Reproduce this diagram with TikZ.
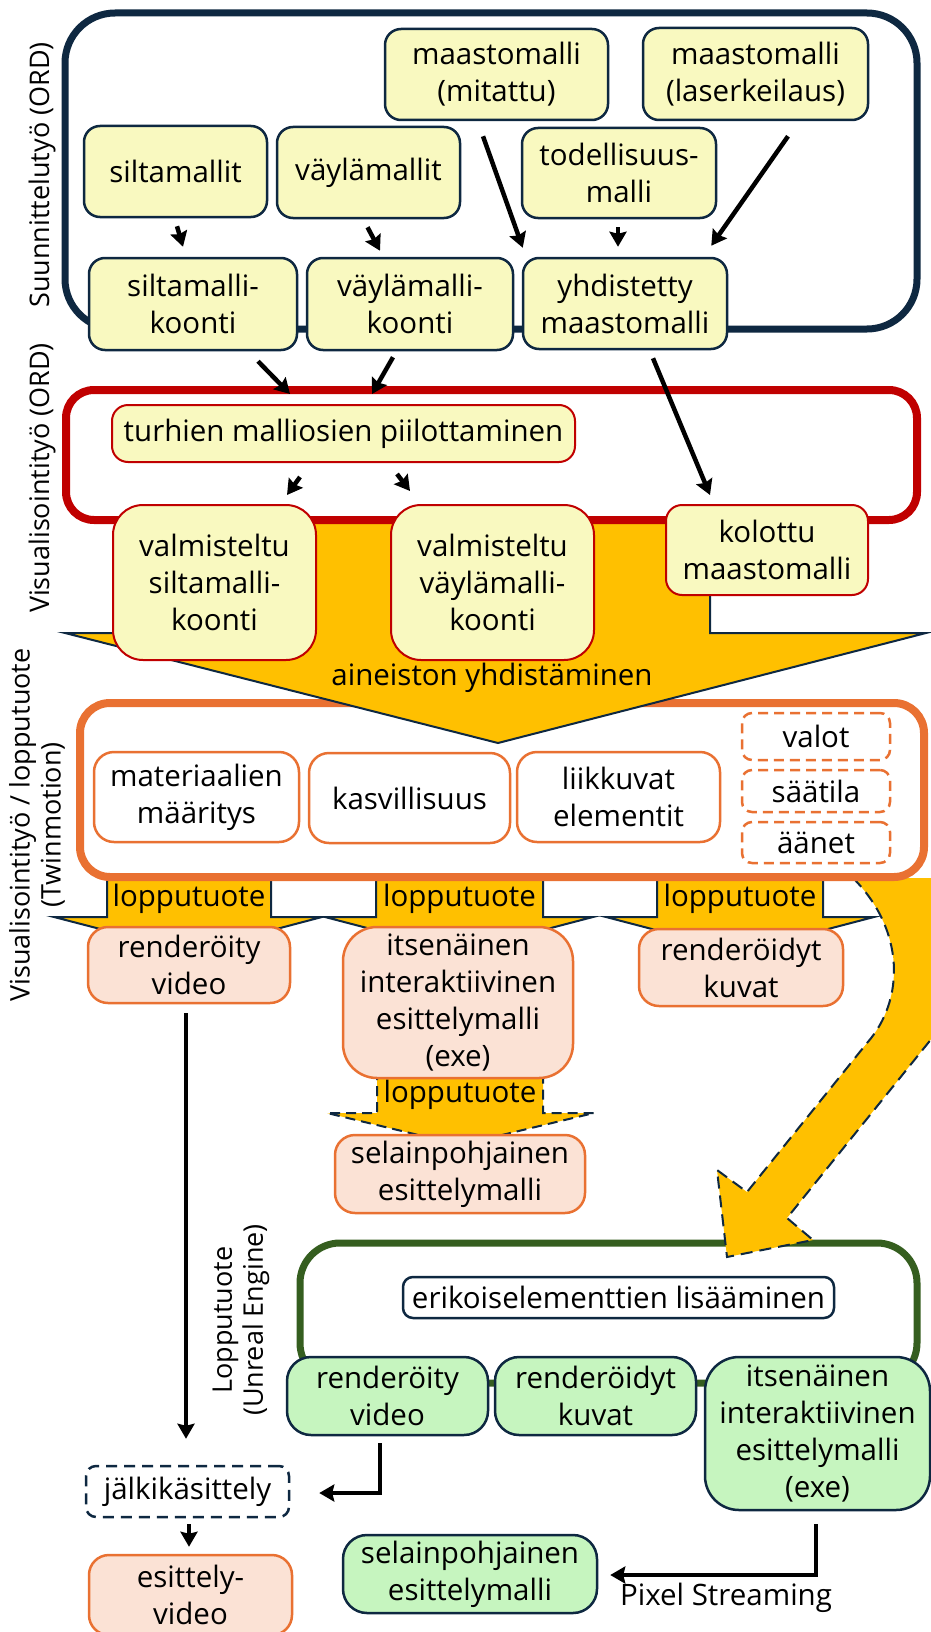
\documentclass[tikz,border=0pt]{standalone}
\usepackage{fontspec}
\setmainfont{Open Sans}
\usetikzlibrary{arrows.meta,calc}

\definecolor{tumma}{HTML}{0E2841}
\definecolor{punainen}{HTML}{C00000}
\definecolor{oranssi}{HTML}{E97132}
\definecolor{vihrea}{HTML}{355E1F}
\definecolor{keltainen}{HTML}{FFC000}
\definecolor{vaalea}{HTML}{F9F9C0}
\definecolor{persikka}{HTML}{FBE2D5}
\definecolor{minttu}{HTML}{C6F5BF}

\tikzset{
  koko/.style 2 args={minimum width=#1pt, minimum height=#2pt},
  ybox/.style={draw=tumma, fill=vaalea, line width=2.5pt, rounded corners=16pt, align=center, inner sep=0pt},
  rbox/.style={ybox, draw=punainen, line width=2pt},
  wbox/.style={draw=oranssi, fill=white, line width=2.5pt, rounded corners=20pt, align=center, inner sep=0pt},
  dbox/.style={wbox, rounded corners=10pt, dash pattern=on 10pt off 6pt},
  pbox/.style={wbox, fill=persikka},
  gbox/.style={ybox, fill=minttu, rounded corners=24pt},
  kehys/.style={line width=7pt, rounded corners=#1},
  kehys/.default=30pt,
  nuoli/.style={line width=4.5pt, -{Stealth[length=15pt, width=17pt, inset=2pt]}},
  yband/.style={fill=keltainen, draw=tumma, line width=2pt},
  otsikko/.style={rotate=90, align=center, font=\fontsize{27}{31}\selectfont},
}

\begin{document}
\begin{tikzpicture}[x=1pt, y=-1pt, every node/.style={font=\fontsize{29.5}{37}\selectfont}]
    \useasboundingbox (0,0) rectangle (931,1632);

    % unreal
    \draw [kehys=40pt, draw=vihrea] (300,1243) rectangle (917,1383);

    % iso nuoli
    \fill [keltainen] (853,878) .. controls (905,930) and (905,1000) .. (867,1043) -- (747,1192) -- (717,1170) -- (727,1257) -- (813,1240) -- (787,1218) -- (945,1022) .. controls (990,960) and (985,900) .. (950,878) -- cycle;
    \draw [tumma, line width=2pt, dash pattern=on 12pt off 7pt] (853,878) .. controls (905,930) and (905,1000) .. (867,1043) -- (747,1192) -- (717,1170) -- (727,1257) -- (813,1240) -- (787,1218) -- (945,1022);

    % lopputuote
    \draw [yband] (107,875) -- (107,917) -- (54,917) -- (189,952) -- (322,917) -- (271,917) -- (271,875);
    \draw [yband] (376,875) -- (376,917) -- (325,917) -- (459,952) -- (593,917) -- (543,917) -- (543,875);
    \draw [yband] (657,875) -- (657,917) -- (606,917) -- (740,952) -- (874,917) -- (823,917) -- (823,875);
    \draw [yband, dash pattern=on 10pt off 6pt] (377,1070) -- (377,1113) -- (327,1113) -- (460,1145) -- (594,1113) -- (543,1113) -- (543,1070);

    % twinmotion
    \draw [kehys=30pt, draw=oranssi, fill=white, line width=8pt] (80,703) rectangle (924,877);

    % yhdistaminen
    \draw [yband] (130,520) -- (130,633) -- (65,633) -- (498,743) -- (926,633) -- (710,633) -- (710,520) -- cycle;

    % ord
    \draw [kehys=50pt, draw=tumma] (65,13) rectangle (917,329);
    \draw [kehys=28pt, draw=punainen, line width=8pt] (66,390) rectangle (917,520);

    % otsikot
    \node [otsikko] (lsuun) at (42,175) {Suunnittelutyö (ORD)};
    \node [otsikko] (lvis) at (42,478) {Visualisointityö (ORD)};
    \node [otsikko] (ltwin) at (37,825) {Visualisointityö / lopputuote\\(Twinmotion)};
    \node [otsikko] (lunreal) at (241,1320) {Lopputuote\\(Unreal Engine)};

    % suunnittelu
    \node [ybox, koko={223}{91}] (mitattu) at (496.5,74.5) {maastomalli\\(mitattu)};
    \node [ybox, koko={225}{92}] (laser) at (755.5,74) {maastomalli\\(laserkeilaus)};
    \node [ybox, koko={183}{91}] (silta) at (175.5,171.5) {siltamallit};
    \node [ybox, koko={183}{91}] (vayla) at (368.5,172.5) {väylämallit};
    \node [ybox, koko={194}{90}] (todell) at (619,173) {todellisuus-\\malli};
    \node [ybox, koko={208}{92}] (siltak) at (193,304) {siltamalli-\\koonti};
    \node [ybox, koko={206}{92}] (vaylak) at (410,304) {väylämalli-\\koonti};
    \node [ybox, koko={204}{91}] (yhd) at (625,303.5) {yhdistetty\\maastomalli};

    % visualisointi
    \node [rbox, koko={463}{57}] (turhien) at (343.5,433.5) {turhien malliosien piilottaminen};
    \node [rbox, koko={203}{155}, rounded corners=30pt] (valsilta) at (214.5,582.5) {valmisteltu\\siltamalli-\\koonti};
    \node [rbox, koko={203}{155}, rounded corners=30pt] (valvayla) at (492.5,582.5) {valmisteltu\\väylämalli-\\koonti};
    \node [rbox, koko={202}{90}] (kolottu) at (767,550) {kolottu\\maastomalli};
    \node (yhdistaminen) at (492,678) {aineiston yhdistäminen};

    % twinmotion
    \node [wbox, koko={205}{90}] (materiaali) at (196.5,797) {materiaalien\\määritys};
    \node [wbox, koko={201}{90}] (kasvi) at (409.5,798) {kasvillisuus};
    \node [wbox, koko={203}{90}] (liikkuvat) at (618.5,797) {liikkuvat\\elementit};
    \node [dbox, koko={148}{47}] (valot) at (816,736.5) {valot};
    \node [dbox, koko={148}{42}] (saatila) at (816,791) {säätila};
    \node [dbox, koko={148}{41}] (aanet) at (816,842.5) {äänet};

    \node (lt1) at (189,899) {lopputuote};
    \node (lt2) at (459.5,899) {lopputuote};
    \node (lt3) at (740,899) {lopputuote};
    \node (lt4) at (460,1095) {lopputuote};

    \node [pbox, koko={202}{76}] (rvideo) at (189,965) {renderöity\\video};
    \node [pbox, koko={230}{151}, rounded corners=34pt] (itsenainen) at (458,1002.5) {itsenäinen\\interaktiivinen\\esittelymalli\\(exe)};
    \node [pbox, koko={204}{77}] (rkuvat) at (741,967.5) {renderöidyt\\kuvat};
    \node [pbox, koko={250}{78}] (selain) at (460,1174) {selainpohjainen\\esittelymalli};

    % unreal
    \node [ybox, fill=white, koko={431}{41}, rounded corners=10pt] (erikois) at (618.5,1297.5) {erikoiselementtien lisääminen};
    \node [gbox, koko={201}{78}] (grvideo) at (387.5,1396) {renderöity\\video};
    \node [gbox, koko={201}{78}] (grkuvat) at (595.5,1396) {renderöidyt\\kuvat};
    \node [gbox, koko={225}{153}, rounded corners=34pt] (gritsen) at (817.5,1433.5) {itsenäinen\\interaktiivinen\\esittelymalli\\(exe)};
    \node [ybox, fill=white, koko={203}{51}, rounded corners=10pt, dash pattern=on 11pt off 7pt] (jalki) at (187.5,1491.5) {jälkikäsittely};
    \node [pbox, koko={203}{80}] (evideo) at (190.5,1595) {esittely-\\video};
    \node [gbox, koko={254}{78}] (grselain) at (470,1574) {selainpohjainen\\esittelymalli};
    \node (pixel) at (726,1598) {Pixel Streaming};

    % nuolet
    \draw [nuoli] ($(silta.south)+(1.5,8)$) -- ($(siltak.north)+(-10,-10)$);
    \draw [nuoli] ($(vayla.south)+(-1,8)$) -- ($(vaylak.north)+(-30,-6)$);
    \draw [nuoli] ($(mitattu.south)+(-13.5,15)$) -- ($(yhd.north west)+(1,-9)$);
    \draw [nuoli] ($(todell.south)+(-1,8)$) -- ($(yhd.north)+(-7,-10)$);
    \draw [nuoli] ($(laser.south)+(32.5,15)$) -- ($(yhd.north east)+(-17,-11)$);
    \draw [nuoli] ($(siltak.south)+(65,10)$) -- ($(turhien.north)+(-53.5,-10)$);
    \draw [nuoli] ($(vaylak.south)+(-17,6)$) -- ($(turhien.north)+(28.5,-10)$);
    \draw [nuoli] ($(yhd.south)+(28,8)$) -- ($(kolottu.north)+(-57,-9)$);
    \draw [nuoli] ($(turhien.south)+(-43.5,14)$) -- ($(valsilta.north)+(72.5,-9)$);
    \draw [nuoli] ($(turhien.south)+(53.5,11)$) -- ($(valvayla.north)+(-82.5,-13)$);
    \draw [nuoli] ($(rvideo.south)+(-3,9)$) -- ($(jalki.north)+(-1.5,-26)$);
    \draw [nuoli] ($(grvideo.south)+(-7.5,7)$) |- ($(jalki.east)+(29,1.5)$);
    \draw [nuoli] ($(jalki.south)+(1.5,6)$) -- ($(evideo.north)+(-1.5,-7)$);
    \draw [nuoli] ($(gritsen.south)+(-1.5,13)$) |- ($(grselain.east)+(12,1)$);
\end{tikzpicture}
\end{document}
